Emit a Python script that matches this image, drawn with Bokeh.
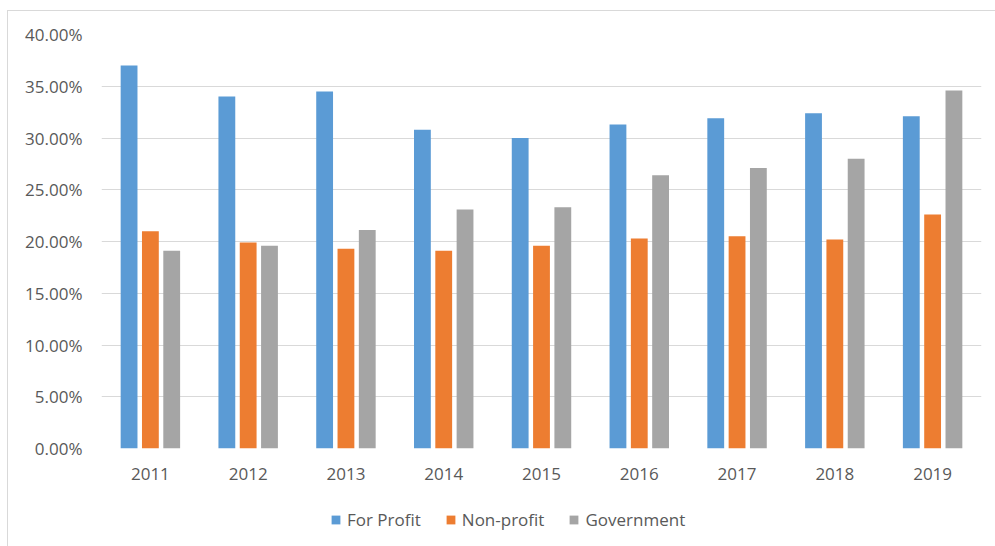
from bokeh.plotting import figure
from bokeh.models import ColumnDataSource, FactorRange, Range1d, NumeralTickFormatter, FixedTicker, Legend, LegendItem
from bokeh.layouts import column
from bokeh.transform import dodge
from bokeh.embed import file_html
from bokeh.resources import INLINE

years = ["2011", "2012", "2013", "2014", "2015", "2016", "2017", "2018", "2019"]
series_names = ["For Profit", "Non-profit", "Government"]
for_profit = [0.370, 0.340, 0.345, 0.308, 0.300, 0.313, 0.319, 0.324, 0.321]
non_profit = [0.210, 0.199, 0.193, 0.191, 0.196, 0.203, 0.205, 0.202, 0.226]
government = [0.191, 0.196, 0.211, 0.231, 0.233, 0.264, 0.271, 0.280, 0.346]
y_ticks = [0.0, 0.05, 0.10, 0.15, 0.20, 0.25, 0.30, 0.35, 0.40]
colors = ["#5B9BD5", "#ED7D31", "#A5A5A5"]
cols = ["fp", "np_", "gov"]

src = ColumnDataSource(dict(year=years, fp=for_profit, np_=non_profit, gov=government))

FONT = "Open Sans"
TXT = "#595959"

p = figure(x_range=FactorRange(factors=years, range_padding=0), y_range=(0, 0.40),
           width=987, height=479, output_backend="svg", toolbar_location=None,
           min_border_left=93, min_border_right=14, min_border_top=23, min_border_bottom=42)

offsets = [-0.218, 0.0, 0.218]
for col, off, c in zip(cols, offsets, colors):
    p.vbar(x=dodge("year", off, range=p.x_range), top=col, width=0.172, source=src,
           fill_color=c, line_color=None)

p.outline_line_color = None
p.xgrid.grid_line_color = None
p.ygrid.grid_line_color = "#D9D9D9"
p.ygrid.grid_line_width = 1
p.yaxis.ticker = FixedTicker(ticks=y_ticks)
p.yaxis.formatter = NumeralTickFormatter(format="0.00%")

for ax in (p.xaxis[0], p.yaxis[0]):
    ax.axis_line_color = None
    ax.major_tick_line_color = None
    ax.minor_tick_line_color = None
    ax.major_tick_out = 0
    ax.major_tick_in = 0
    ax.minor_tick_out = 0
    ax.major_label_text_font = FONT
    ax.major_label_text_font_size = "17px"
    ax.major_label_text_color = TXT
p.yaxis.major_label_standoff = 19
p.xaxis.major_label_standoff = 19

# legend strip (renderers hidden; legend only)
lg = figure(width=987, height=57, output_backend="svg", toolbar_location=None,
            x_range=FactorRange(factors=years), y_range=Range1d(0, 0.40),
            x_axis_type=None, y_axis_type=None,
            min_border_left=0, min_border_right=0, min_border_top=0, min_border_bottom=0)
lg.outline_line_color = None
lg.xgrid.grid_line_color = None
lg.ygrid.grid_line_color = None
items = []
for name, col, c in zip(series_names, cols, colors):
    r = lg.vbar(x="year", top=col, width=0.1, source=src, fill_color=c, line_color=None, visible=False)
    items.append(LegendItem(label=name, renderers=[r]))
legend = Legend(items=items, orientation="horizontal", location=(229, 16), margin=0, padding=5,
                glyph_width=11, glyph_height=11, label_standoff=6, spacing=24,
                label_text_font=FONT, label_text_font_size="17px", label_text_color=TXT,
                border_line_color=None, background_fill_alpha=0,
                inactive_fill_alpha=0, click_policy="none")
lg.add_layout(legend, "center")

layout = column(p, lg, spacing=0)
layout.margin = (10, 0, 0, 7)
layout.styles = {"border-left": "1px solid #D9D9D9", "border-top": "1px solid #D9D9D9"}
open("out.html", "w").write(file_html(layout, INLINE))
